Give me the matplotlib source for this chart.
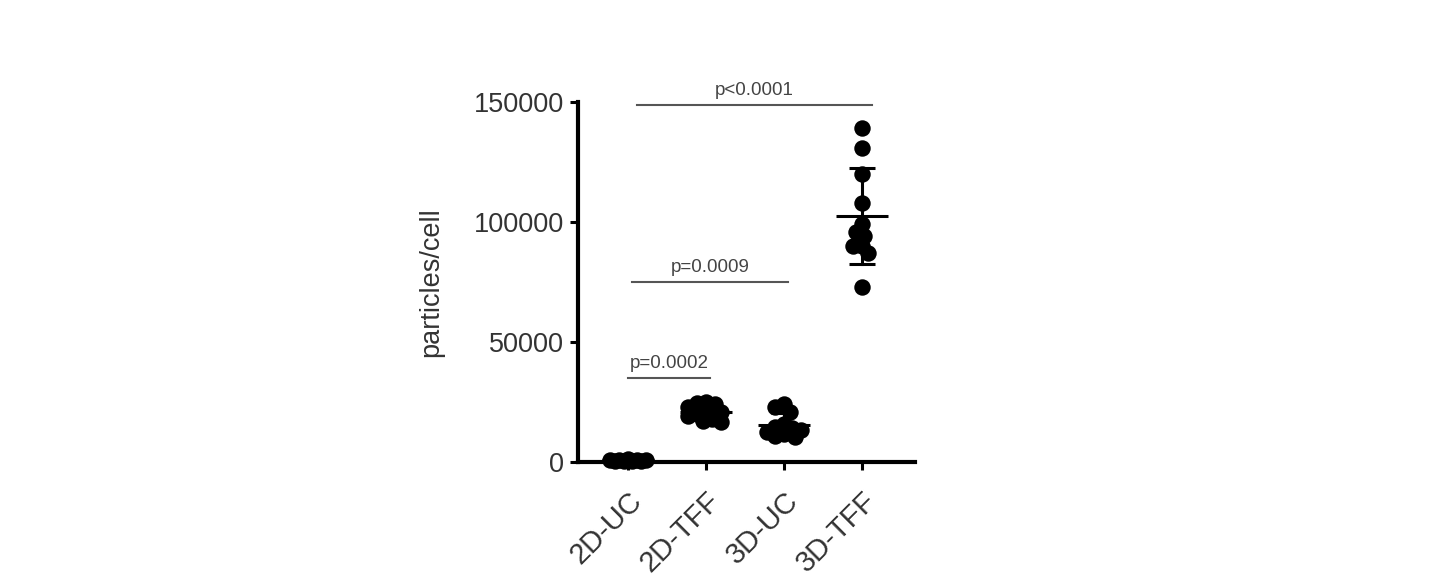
import numpy as np
import matplotlib
matplotlib.use("Agg")
import matplotlib.pyplot as plt

# ---- data ----
categories = ["2D-UC", "2D-TFF", "3D-UC", "3D-TFF"]
vals_2d_uc = [300, 500, 700, 800, 1000, 1200, 600, 400, 900]
vals_2d_tff = [24500, 25000, 24000, 23000, 21000, 21000, 20000, 19000, 18000, 17000, 16500]
vals_3d_uc = [24000, 23000, 21000, 16000, 14500, 14000, 13500, 12500, 11500, 11000, 10500]
vals_3d_tff = [139000, 131000, 120000, 108000, 99000, 96000, 94000, 90000, 90000, 87000, 73000]
groups = [vals_2d_uc, vals_2d_tff, vals_3d_uc, vals_3d_tff]
yticks = [0, 50000, 100000, 150000]
comparisons = [(0, 3, "p<0.0001", 148750), (0, 2, "p=0.0009", 75000), (0, 1, "p=0.0002", 35000)]

plt.rcParams['font.family'] = ['Liberation Sans', 'DejaVu Sans']

fig = plt.figure(figsize=(14.38, 5.82), dpi=100)
ax = fig.add_axes([578/1438, 1-462/582, (915-578)/1438, (462-102)/582])
ax.set_xlim(-0.641, 3.679)
ax.set_ylim(0, 150000)

for s in ['top', 'right']:
    ax.spines[s].set_visible(False)
for s in ['left', 'bottom']:
    ax.spines[s].set_linewidth(3)
ax.tick_params(axis='both', width=2.2, length=6, color='black', labelsize=19.5,
               labelcolor='#333333', pad=4)
ax.tick_params(axis='x', pad=12, labelsize=21)
ax.set_yticks(yticks)
ax.set_yticklabels([str(v) for v in yticks])
ax.set_xticks(range(len(categories)))
ax.set_xticklabels(categories, rotation=45, ha='right', va='top',
                   rotation_mode='anchor')
ax.set_ylabel("particles/cell", fontsize=19.5, color='#333333', labelpad=21)

# beeswarm layout in pixel space
fig.canvas.draw()
trans = ax.transData
diam = 16.0  # px
min_d = diam * 0.55
max_off = 22.0
for gi, vals in enumerate(groups):
    order = np.argsort(vals)[::-1]
    placed = []
    xs = np.zeros(len(vals))
    for idx in order:
        px, py = trans.transform((gi, vals[idx]))
        best = None
        best_score = -1
        for k in range(0, int(max_off) + 1):
            for sgn in ([1] if k == 0 else [-1, 1]):
                cand = px + sgn * k
                dmin = min([np.hypot(cand - qx, py - qy) for qx, qy in placed] + [1e9])
                if dmin >= min_d:
                    best = cand
                    break
                if dmin > best_score:
                    best_score = dmin
                    fallback = cand
            if best is not None:
                break
        if best is None:
            best = fallback
        placed.append((best, py))
        xs[idx] = trans.inverted().transform((best, py))[0]
    ax.scatter(xs, vals, s=140, color='black', zorder=3, clip_on=False, linewidths=0)

    m = np.mean(vals)
    sd = np.std(vals, ddof=1)
    ax.plot([gi - 0.33, gi + 0.33], [m, m], color='black', lw=2.2, zorder=4, solid_capstyle='butt')
    ax.plot([gi, gi], [m - sd, m + sd], color='black', lw=2.2, zorder=4)
    for yy in (m - sd, m + sd):
        ax.plot([gi - 0.17, gi + 0.17], [yy, yy], color='black', lw=2.2, zorder=4,
                solid_capstyle='butt')

# significance lines
offsets = {3: (0.115, 3.13), 2: (0.05, 2.05), 1: (0.0, 1.05)}
for a, b, txt, yv in comparisons:
    x0 = a + offsets[b][0]
    x1 = offsets[b][1]
    ax.plot([x0, x1], [yv, yv], color='#555555', lw=1.5, clip_on=False)
    ax.annotate(txt, xy=((x0 + x1) / 2, yv), xytext=(0, 4), textcoords='offset points',
                ha='center', va='bottom', fontsize=13.5, color='#444444')

fig.savefig("out.png", dpi=100)
